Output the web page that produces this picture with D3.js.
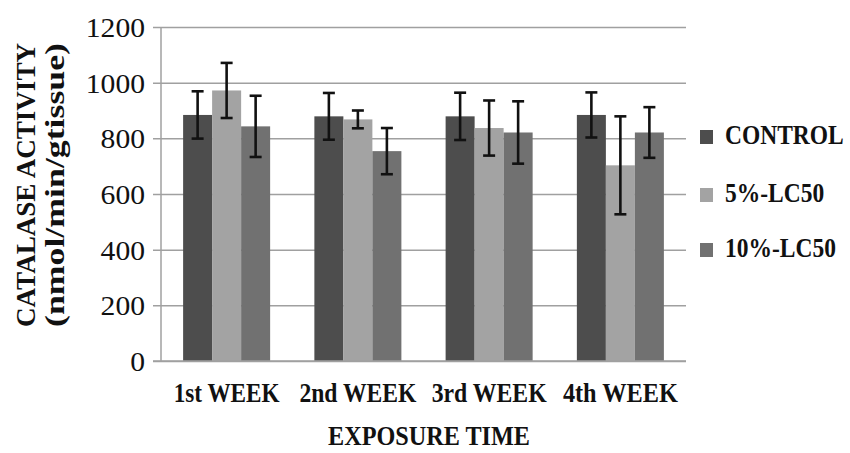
<!DOCTYPE html>
<html>
<head>
<meta charset="utf-8">
<script src="https://cdn.jsdelivr.net/npm/d3@7"></script>
<style>
  html, body { margin: 0; padding: 0; background: #fff; }
  svg { display: block; font-family: "Liberation Serif", "Times New Roman", serif; }
</style>
</head>
<body>
<svg id="chart" width="850" height="453"></svg>
<script>
// ---- data ----
const weeks = ["1st WEEK", "2nd WEEK", "3rd WEEK", "4th WEEK"];
const seriesNames = ["CONTROL", "5%-LC50", "10%-LC50"];
const controlMean = [884, 879, 879, 884];
const controlErr  = [85, 84, 85, 81];
const lc5Mean     = [972, 868, 837, 703];
const lc5Err      = [99, 32, 99, 176];
const lc10Mean    = [843, 754, 821, 821];
const lc10Err     = [110, 83, 112, 91];
const yTicks = [0, 200, 400, 600, 800, 1000, 1200];
const yTitleLines = ["CATALASE ACTIVITY", "(nmol/min/gtissue)"];
const xTitle = "EXPOSURE TIME";

const colors = ["#4d4d4d", "#a3a3a3", "#717171"];
const means = [controlMean, lc5Mean, lc10Mean];
const errs = [controlErr, lc5Err, lc10Err];

const svg = d3.select("#chart");
const pL = 161, pR = 686, pT = 27, pB = 361;

const y = d3.scaleLinear().domain([0, 1200]).range([pB, pT]);
const x0 = d3.scaleBand().domain(weeks).range([pL, pR]).paddingInner(0.337).paddingOuter(0.1685);
const x1 = d3.scaleBand().domain(seriesNames).range([0, x0.bandwidth()]);

// gridlines + y ticks
const yAxis = d3.axisLeft(y).tickValues(yTicks).tickSize(-(pR - pL)).tickSizeOuter(0).tickFormat(d3.format("d")).tickPadding(16);
const gy = svg.append("g").attr("transform", `translate(${pL},0)`).call(yAxis);
gy.select(".domain").remove();
gy.selectAll(".tick line").attr("x1", -8).attr("stroke", "#a0a0a0").attr("stroke-width", 1.5);
gy.selectAll(".tick text")
  .attr("font-size", 28).attr("fill", "#111")
  .attr("font-family", "'Liberation Serif', serif")
  .each(function(d){ const t = d3.select(this); const n = String(d).length; t.attr("textLength", n * 14.8).attr("lengthAdjust", "spacingAndGlyphs"); })
  .attr("dy", "0.34em");

// y axis line
svg.append("line").attr("x1", pL).attr("x2", pL).attr("y1", pT).attr("y2", pB)
  .attr("stroke", "#a0a0a0").attr("stroke-width", 1.5);

// bars
const data = [];
weeks.forEach((w, i) => seriesNames.forEach((s, j) => data.push({ w, s, j, v: means[j][i], e: errs[j][i] })));

svg.append("g").selectAll("rect").data(data).join("rect")
  .attr("x", d => x0(d.w) + x1(d.s))
  .attr("width", x1.bandwidth())
  .attr("y", d => y(d.v))
  .attr("height", d => y(0) - y(d.v))
  .attr("fill", d => colors[d.j]);

// x axis line
svg.append("line").attr("x1", pL - 8).attr("x2", pR).attr("y1", pB).attr("y2", pB)
  .attr("stroke", "#a0a0a0").attr("stroke-width", 1.5);

// error bars
const eg = svg.append("g").attr("stroke", "#111").attr("stroke-width", 2.6);
const cx = d => x0(d.w) + x1(d.s) + x1.bandwidth() / 2;
eg.selectAll("line.v").data(data).join("line").attr("class", "v")
  .attr("x1", cx).attr("x2", cx).attr("y1", d => y(d.v + d.e)).attr("y2", d => y(d.v - d.e));
eg.selectAll("line.t").data(data).join("line").attr("class", "t")
  .attr("x1", d => cx(d) - 6).attr("x2", d => cx(d) + 6).attr("y1", d => y(d.v + d.e)).attr("y2", d => y(d.v + d.e));
eg.selectAll("line.b").data(data).join("line").attr("class", "b")
  .attr("x1", d => cx(d) - 6).attr("x2", d => cx(d) + 6).attr("y1", d => y(d.v - d.e)).attr("y2", d => y(d.v - d.e));

// x tick labels
const xLabelW = { "1st WEEK": 106, "2nd WEEK": 117, "3rd WEEK": 115, "4th WEEK": 115 };
svg.append("g").selectAll("text").data(weeks).join("text")
  .attr("x", d => x0(d) + x0.bandwidth() / 2)
  .attr("y", 402)
  .attr("text-anchor", "middle")
  .attr("font-size", 27).attr("font-weight", "bold").attr("fill", "#111")
  .attr("textLength", d => xLabelW[d]).attr("lengthAdjust", "spacingAndGlyphs")
  .text(d => d);

// x title
svg.append("text").attr("x", 429).attr("y", 445).attr("text-anchor", "middle")
  .attr("font-size", 27).attr("font-weight", "bold").attr("fill", "#111")
  .attr("textLength", 202).attr("lengthAdjust", "spacingAndGlyphs")
  .text(xTitle);

// y title
const yt = svg.append("g").attr("transform", "translate(0,185) rotate(-90)");
yt.selectAll("text").data(yTitleLines).join("text")
  .attr("x", 0).attr("y", (d, i) => i === 0 ? 35 : 64)
  .attr("text-anchor", "middle")
  .attr("font-size", 27).attr("font-weight", "bold").attr("fill", "#111")
  .attr("textLength", 284).attr("lengthAdjust", "spacingAndGlyphs")
  .text(d => d);

// legend
const legY = [144, 202, 257];
const lg = svg.append("g");
seriesNames.forEach((s, j) => {
  lg.append("rect").attr("x", 700).attr("y", legY[j] - 14).attr("width", 13).attr("height", 14).attr("fill", colors[j]);
  lg.append("text").attr("transform", `translate(725,${legY[j]}) scale(1,1.15)`)
    .attr("x", 0).attr("y", 0)
    .attr("font-size", 23.5).attr("font-weight", "bold").attr("fill", "#111")
    .text(s);
});
</script>
</body>
</html>
